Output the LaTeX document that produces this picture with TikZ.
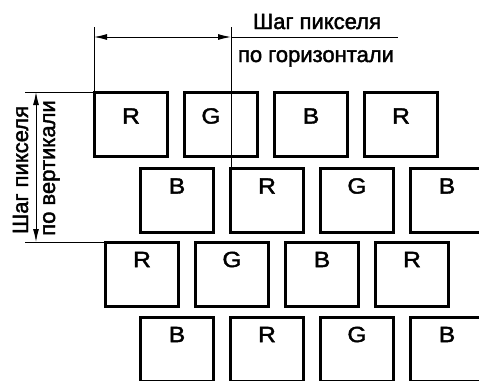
\documentclass[tikz,border=0pt]{standalone}
\usepackage{fontspec}
\setmainfont[FakeBold=1.8]{Liberation Sans}
\usetikzlibrary{arrows.meta}

\tikzset{
  pix/.style={draw, line width=3pt, minimum width=73pt, minimum height=64pt, inner sep=0pt},
  txt/.style={font=\fontsize{22}{26}\selectfont, inner sep=0pt},
  clr/.style={txt, xscale=1.12},
  dim/.style={line width=1pt},
  dimarr/.style={dim, {Latex[length=13pt,width=6pt]}-{Latex[length=13pt,width=6pt]}},
}

\begin{document}
\begin{tikzpicture}[x=1pt,y=-1pt]
  \useasboundingbox (0,0) rectangle (479,380);
  \clip (0,0) rectangle (479,380);
  \foreach \l/\s [count=\i] in {R/0,G/-10,B/0,R/0} {
    \node[pix] (a\i) at ({41+90*\i},124.5) {};
    \node[clr] (la\i) at ([xshift=\s pt,yshift=8.5pt]a\i) {\l};
  }
  \foreach \l [count=\i] in {B,R,G,B} {
    \node[pix] (b\i) at ({87+90*\i},200.5) {};
    \node[clr] (lb\i) at ([yshift=14.5pt]b\i) {\l};
  }
  \foreach \l [count=\i] in {R,G,B,R} {
    \node[pix] (c\i) at ({52+90*\i},274.5) {};
    \node[clr] (lc\i) at ([yshift=15pt]c\i) {\l};
  }
  \foreach \l [count=\i] in {B,R,G,B} {
    \node[pix] (d\i) at ({87+90*\i},349.5) {};
    \node[clr] (ld\i) at ([yshift=15pt]d\i) {\l};
  }
  % horizontal pitch
  \coordinate (hA) at (94,27);
  \coordinate (hB) at (231,27);
  \coordinate (hL) at (94,37);
  \coordinate (hR) at (231,37);
  \coordinate (hE) at (398,37);
  \draw[dim] (hA) -- (hA |- a1.north);
  \draw[dim] (hB) -- (hB |- b2.north);
  \draw[dimarr] (hL) -- (hR);
  \draw[dim] (hR) -- (hE);
  \node[txt, anchor=base] (th1) at (317,29) {Шаг пикселя};
  \node[txt, anchor=base] (th2) at (316,62) {по горизонтали};
  % vertical pitch
  \coordinate (vT) at (25,92);
  \coordinate (vB) at (25,242);
  \coordinate (vA) at (36,92);
  \coordinate (vC) at (36,242);
  \draw[dim] (vT) -- (vT -| a1.west);
  \draw[dim] (vB) -- (vB -| c1.west);
  \draw[dimarr] (vA) -- (vC);
  \node[txt, anchor=base, rotate=90] (tv1) at (28,170) {Шаг пикселя};
  \node[txt, anchor=base, rotate=90] (tv2) at (55,168) {по вертикали};
\end{tikzpicture}
\end{document}
